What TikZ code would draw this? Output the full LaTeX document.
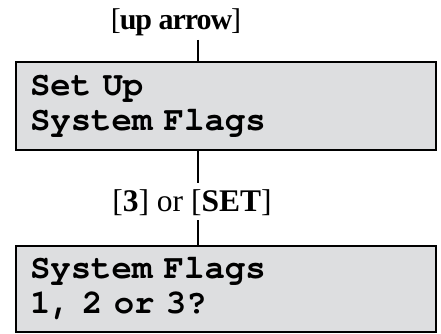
\documentclass[tikz,border=0pt]{standalone}
\usepackage{fontspec}
\setmainfont{Liberation Serif}
\newfontfamily\lcdfont[WordSpace={1,0,0}]{TeX Gyre Cursor}
\definecolor{lcdgray}{HTML}{DDDEE0}

\begin{document}
\begin{tikzpicture}[x=1pt, y=1pt,
    lcdbox/.style={draw, line width=2pt, fill=lcdgray, minimum width=420pt,
        inner sep=0pt, text width=392pt, align=left,
        font=\lcdfont\bfseries\fontsize{34}{35}\selectfont},
    keylabel/.style={inner sep=4pt},
    wire/.style={line width=2pt}]
    % Frame
    \useasboundingbox (0,0) rectangle (441,334);
    \coordinate (stem) at (198, 0);

    % Key press and first display
    \node[keylabel, font=\fontsize{30}{32}\selectfont\addfontfeature{LetterSpace=-3.5}] (keyup) at (176, 312) {[\textbf{up arrow}]};
    \node[lcdbox, minimum height=88pt] (setup) at (226, 228) {Set Up\\System Flags};

    % Key press and second display
    \node[keylabel, font=\fontsize{31.5}{34}\selectfont] (keyset) at (192, 131) {[\textbf{3}] or [\textbf{SET}]};
    \node[lcdbox, minimum height=86pt] (flags) at (226, 45) {System Flags\\1, 2 or 3?};

    % Connectors
    \draw[wire] (keyup.south -| stem) -- (setup.north -| stem);
    \draw[wire] (setup.south -| stem) -- ([yshift=3pt]keyset.north -| stem);
    \draw[wire] (keyset.south -| stem) -- (flags.north -| stem);
\end{tikzpicture}
\end{document}
